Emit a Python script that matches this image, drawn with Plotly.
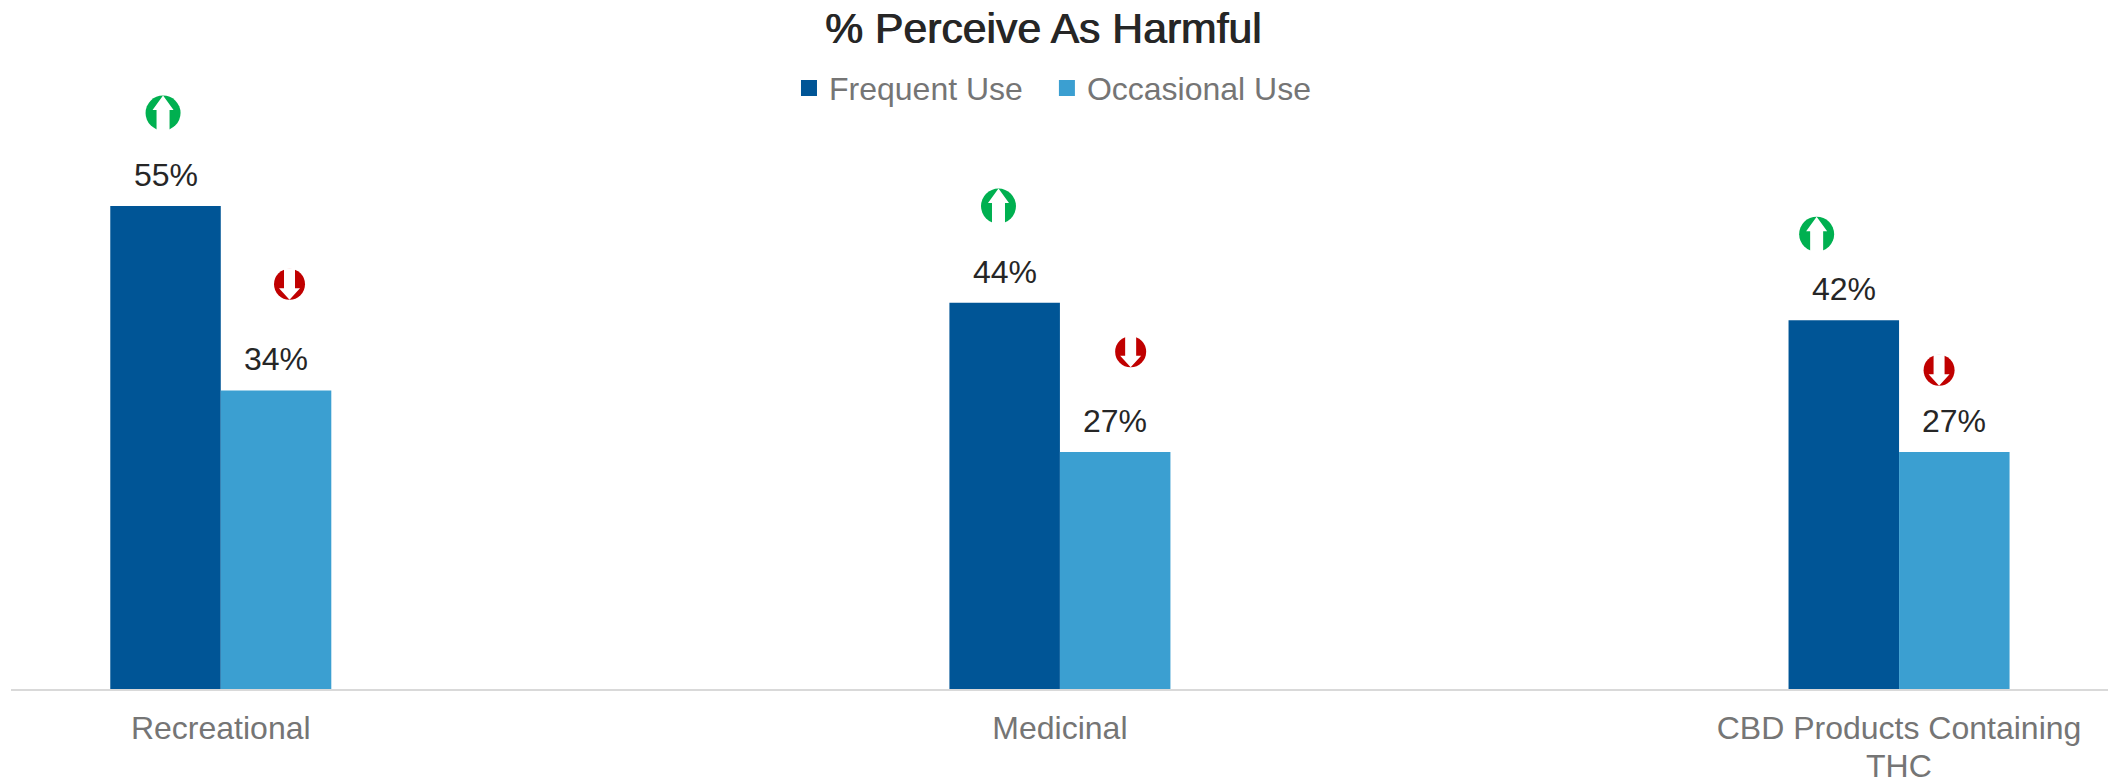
import plotly.graph_objects as go

categories = ["Recreational", "Medicinal", "CBD Products Containing"]
last_category_second_line = "THC"
positions = [0, 1, 2]
frequent_use = [55, 44, 42]
occasional_use = [34, 27, 27]

up_x = [-0.0688, 0.9268, 1.9018]
up_y = [65.6, 55.0, 51.8]
down_x = [0.0819, 1.0843, 2.0477]
down_y = [46.1, 38.4, 36.3]

DARK = "#005596"
LIGHT = "#3B9FD1"
GREEN = "#00B050"
RED = "#C00000"
INK = "#262626"
GREY = "#757575"
FONT = "Liberation Sans, Arial, sans-serif"
BAR_W = 0.1317

fig = go.Figure()
for name, vals, col, sign, leg in [("Frequent Use", frequent_use, DARK, -1, "legend"),
                                   ("Occasional Use", occasional_use, LIGHT, 1, "legend2")]:
    fig.add_trace(go.Bar(x=[p + sign * BAR_W / 2 for p in positions], y=vals, width=BAR_W,
                         name=name, marker=dict(color=col, line_width=0), showlegend=False,
                         hoverinfo="x+y"))
    # legend entry with a larger swatch
    fig.add_trace(go.Scatter(x=[None], y=[None], mode="markers", name=name, legend=leg,
                             marker=dict(symbol="square", size=16, color=col)))
    for p, v in zip(positions, vals):
        fig.add_annotation(x=p + sign * BAR_W / 2, y=v, text=f"{v}%", showarrow=False,
                           yanchor="bottom", yshift=11,
                           font=dict(family=FONT, size=32, color=INK))

fig.add_trace(go.Scatter(x=up_x, y=up_y, mode="markers", showlegend=False, cliponaxis=False,
                         marker=dict(symbol="circle", size=35, color=GREEN, line_width=0)))
fig.add_trace(go.Scatter(x=down_x, y=down_y, mode="markers", showlegend=False, cliponaxis=False,
                         marker=dict(symbol="circle", size=31, color=RED, line_width=0)))

UP_PATH = "M 0 17.5 L 10.5 3 L 6.5 3 L 6.5 -18 L -6.5 -18 L -6.5 3 L -10.5 3 Z"
DOWN_PATH = "M 0 -15.5 L 10.5 -4 L 5.5 -4 L 5.5 16 L -5.5 16 L -5.5 -4 L -10.5 -4 Z"
for xs, ys, path in [(up_x, up_y, UP_PATH), (down_x, down_y, DOWN_PATH)]:
    for x, y in zip(xs, ys):
        fig.add_shape(type="path", path=path, xref="x", yref="y", xsizemode="pixel",
                      ysizemode="pixel", xanchor=x, yanchor=y,
                      fillcolor="white", line_width=0, layer="above")

fig.add_annotation(x=positions[-1], y=0, yref="paper", yshift=-77, yanchor="middle",
                   text=last_category_second_line, showarrow=False,
                   font=dict(family=FONT, size=32, color=GREY))

legend_style = dict(orientation="h", y=0.872, yanchor="middle", xanchor="left",
                    font=dict(family=FONT, size=32, color=GREY), bgcolor="rgba(0,0,0,0)")

fig.update_layout(
    width=2113, height=777, paper_bgcolor="white", plot_bgcolor="white",
    margin=dict(l=11, r=5, t=0, b=88, autoexpand=False),
    title=dict(text="% Perceive As Harmful", x=1043 / 2113, xanchor="center", xref="container",
               y=1 - 28 / 777, yanchor="middle",
               font=dict(family=FONT, size=42.7, color=INK, shadow="1px 0 0 #262626")),
    legend=dict(x=0.371, **legend_style),
    legend2=dict(x=0.494, **legend_style),
    xaxis=dict(range=[-0.25, 2.249], tickmode="array", tickvals=positions, ticktext=categories,
               showgrid=False, zeroline=False, showline=True, linecolor="#D9D9D9", linewidth=2,
               ticks="outside", ticklen=10, tickcolor="rgba(0,0,0,0)",
               tickfont=dict(family=FONT, size=32, color=GREY)),
    yaxis=dict(range=[0, 78.47], visible=False),
)
fig.write_html("out.html", config=dict(displayModeBar=False),
               post_script="document.body.style.margin='0';")
